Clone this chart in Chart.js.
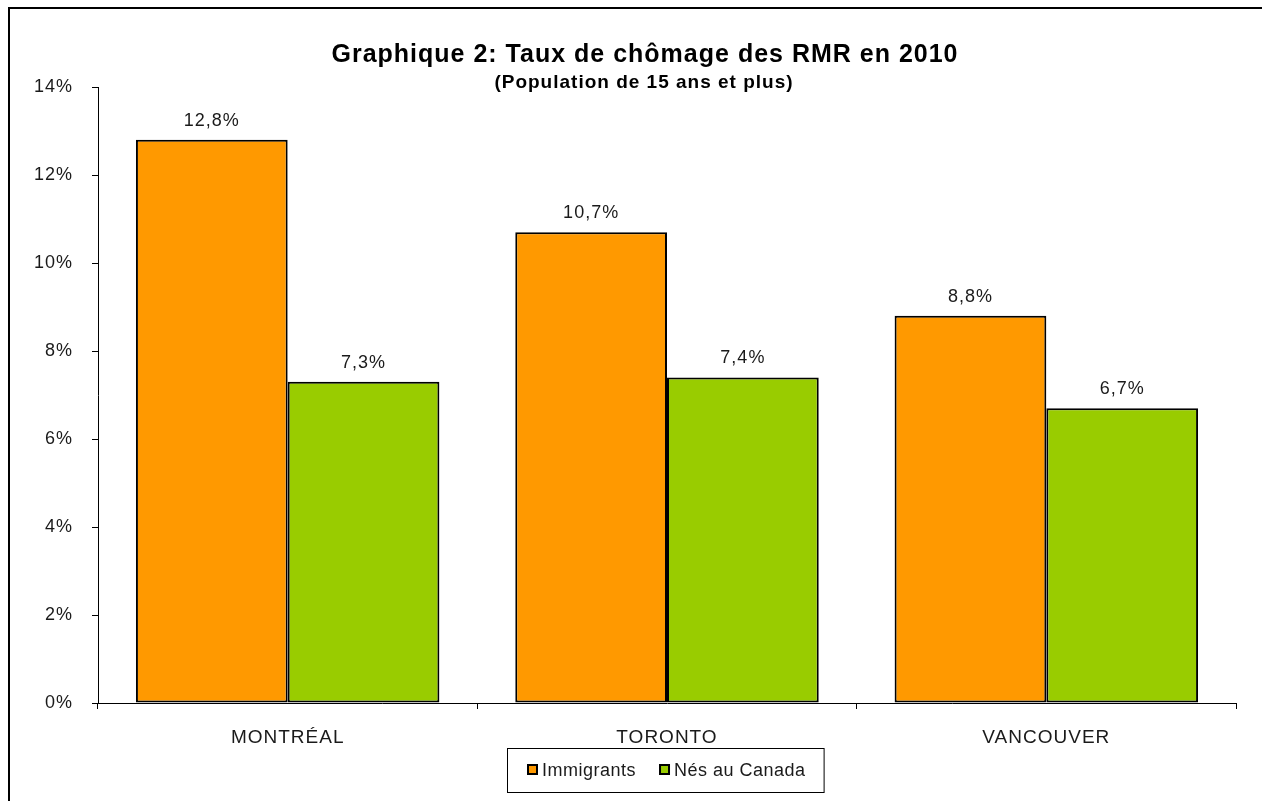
<!DOCTYPE html>
<html lang="fr">
<head>
<meta charset="utf-8">
<title>Graphique 2</title>
<script src="https://cdn.jsdelivr.net/npm/chart.js@4"></script>
<style>
  html, body { margin: 0; padding: 0; background: #fff; }
  #wrap { width: 1262px; height: 801px; position: relative; }
</style>
</head>
<body>
<div id="wrap"><canvas id="chart" width="1262" height="801"></canvas></div>
<script>
// data
const categories = ['MONTRÉAL', 'TORONTO', 'VANCOUVER'];
const seriesNames = ['Immigrants', 'Nés au Canada'];
const immigrants = [12.8, 10.7, 8.8];
const nesAuCanada = [7.3, 7.4, 6.7];
const yMax = 14;
const yStep = 2;
const titleText = 'Graphique 2: Taux de chômage des RMR en 2010';
const subtitleText = '(Population de 15 ans et plus)';

const FONT = '"Liberation Sans", Arial, sans-serif';
const TEXT = '#1a1a1a';

function pct(v) {
    return v.toFixed(1).replace('.', ',') + '%';
}

// frame + titles; the letter spacing set here stays for the axis text too
const decorPlugin = {
    id: 'decor',
    beforeDraw(chart) {
        const ctx = chart.ctx;
        ctx.letterSpacing = '1px';
        ctx.save();
        ctx.strokeStyle = '#000';
        ctx.lineWidth = 2;
        ctx.strokeRect(9, 8, 1400, 1000);
        ctx.fillStyle = '#000';
        ctx.textAlign = 'center';
        ctx.textBaseline = 'alphabetic';
        ctx.font = 'bold 25px ' + FONT;
        ctx.fillText(titleText, 645, 62);
        ctx.font = 'bold 19px ' + FONT;
        ctx.fillText(subtitleText, 644, 88);
        ctx.restore();
    }
};

// value labels above bars
const valueLabels = {
    id: 'valueLabels',
    afterDatasetsDraw(chart) {
        const ctx = chart.ctx;
        ctx.save();
        ctx.font = '18px ' + FONT;
        ctx.fillStyle = TEXT;
        ctx.textAlign = 'center';
        ctx.textBaseline = 'alphabetic';
        chart.data.datasets.forEach((ds, i) => {
            chart.getDatasetMeta(i).data.forEach((bar, j) => {
                ctx.fillText(pct(ds.data[j]), bar.x, bar.y - 14);
            });
        });
        ctx.restore();
    }
};

// boxed legend under the axis labels
const boxedLegend = {
    id: 'boxedLegend',
    afterDraw(chart) {
        const ctx = chart.ctx;
        const area = chart.chartArea;
        ctx.save();
        ctx.letterSpacing = '0.5px';
        ctx.font = '18px ' + FONT;
        ctx.textBaseline = 'middle';
        ctx.textAlign = 'left';
        const items = chart.data.datasets.map(ds => ({
            label: ds.label,
            color: ds.backgroundColor,
            w: ctx.measureText(ds.label).width
        }));
        const marker = 9, gapText = 5, gapItem = 24;
        let total = 0;
        items.forEach((it, i) => {
            total += marker + gapText + it.w + (i ? gapItem : 0);
        });
        const cx = (area.left + area.right) / 2;
        let x = Math.round(cx - total / 2);
        const cy = 770;
        const boxLeft = x - 21, boxRight = x + total + 18;
        ctx.strokeStyle = '#000';
        ctx.lineWidth = 1;
        ctx.strokeRect(boxLeft + 0.5, 748.5, boxRight - boxLeft, 44);
        items.forEach(it => {
            ctx.fillStyle = it.color;
            ctx.fillRect(x, cy - 5, marker, marker);
            ctx.lineWidth = 2;
            ctx.strokeRect(x, cy - 5, marker, marker);
            x += marker + gapText;
            ctx.fillStyle = TEXT;
            ctx.fillText(it.label, x, cy + 1);
            x += it.w + gapItem;
        });
        ctx.restore();
    }
};

new Chart(document.getElementById('chart').getContext('2d'), {
    type: 'bar',
    data: {
        labels: categories,
        datasets: [
            {
                label: seriesNames[0],
                data: immigrants,
                backgroundColor: '#FF9900',
                borderColor: '#000',
                borderWidth: 2,
                borderSkipped: false
            },
            {
                label: seriesNames[1],
                data: nesAuCanada,
                backgroundColor: '#99CC00',
                borderColor: '#000',
                borderWidth: 2,
                borderSkipped: false
            }
        ]
    },
    options: {
        responsive: false,
        animation: false,
        devicePixelRatio: 1,
        categoryPercentage: 0.8,
        barPercentage: 1.0,
        layout: { padding: { top: 87, right: 26, left: 0, bottom: 0 } },
        plugins: {
            title: { display: false },
            tooltip: { enabled: false },
            legend: { display: false }
        },
        scales: {
            x: {
                grid: {
                    drawOnChartArea: false,
                    drawTicks: true,
                    tickLength: 6,
                    color: '#000',
                    offset: true
                },
                border: { color: '#000', width: 1 },
                ticks: {
                    color: TEXT,
                    padding: 17,
                    font: { family: FONT, size: 19 }
                },
                afterFit(scale) { scale.height = 98; }
            },
            y: {
                min: 0,
                max: yMax,
                grid: {
                    drawOnChartArea: false,
                    drawTicks: true,
                    tickLength: 6,
                    color: '#000'
                },
                border: { color: '#000', width: 1 },
                ticks: {
                    stepSize: yStep,
                    color: TEXT,
                    padding: 19,
                    font: { family: FONT, size: 18 },
                    callback: v => v + '%'
                },
                afterFit(scale) { scale.width = 98; }
            }
        }
    },
    plugins: [decorPlugin, valueLabels, boxedLegend]
});
</script>
</body>
</html>
